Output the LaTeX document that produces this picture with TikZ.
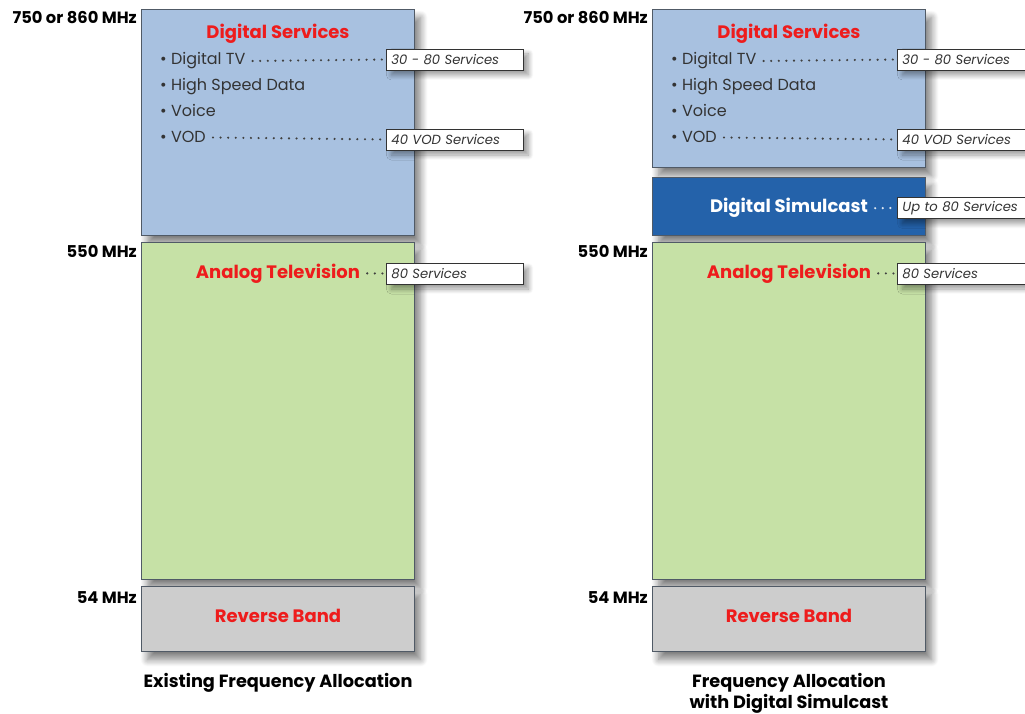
\documentclass[tikz,border=0pt]{standalone}
\usepackage{fontspec}
\setmainfont{Poppins}
\usetikzlibrary{shadows.blur}
\definecolor{dsblue}{HTML}{A8C1E0}
\definecolor{simblue}{HTML}{2462AA}
\definecolor{atgreen}{HTML}{C6E1A6}
\definecolor{rbgray}{HTML}{CDCDCD}
\definecolor{redtxt}{HTML}{EE1C1C}
\definecolor{edgec}{HTML}{505A66}
\definecolor{txtc}{HTML}{333333}
\begin{document}
\begin{tikzpicture}[x=1pt,y=-1pt,
  shad/.style={blur shadow={shadow xshift=6pt, shadow yshift=-8pt, shadow blur radius=7pt, shadow blur steps=12, shadow opacity=50}},
  tshad/.style={blur shadow={shadow xshift=5pt, shadow yshift=-5pt, shadow blur radius=5pt, shadow blur steps=10, shadow opacity=40}},
  band/.style={draw=edgec, line width=1.1pt, anchor=north west, inner sep=0pt, shad},
  tag/.style={draw=black!80, line width=0.9pt, fill=white, anchor=west, inner xsep=5pt, inner ysep=0pt,
    text width=127pt, minimum height=21pt, align=left, font=\fontsize{13.2}{13.2}\selectfont\itshape, text=txtc, tshad},
  item/.style={anchor=base west, inner sep=0pt, font=\fontsize{16}{16}\selectfont, text=txtc},
  title/.style={anchor=base, inner sep=0pt, font=\fontsize{18}{18}\selectfont\bfseries, text=redtxt},
  freq/.style={anchor=base east, inner sep=0pt, font=\fontsize{16.3}{16.3}\selectfont\bfseries},
  caption/.style={anchor=base, inner sep=0pt, font=\fontsize{17.7}{17.7}\selectfont\bfseries},
  leader/.style={draw=black!75, line width=2.4pt, line cap=round, dash pattern=on 0pt off 7.6pt, shorten >=3pt, shorten <=7pt}]
\useasboundingbox (0,0) rectangle (1025,714);
\clip (0,0) rectangle (1025,714);

% ---------- left column ----------
\node[band, fill=dsblue, minimum width=273pt, minimum height=226pt] (ds1) at (141,9) {};
\node[band, fill=atgreen, minimum width=273pt, minimum height=337pt] (at1) at (141,242) {};
\node[band, fill=rbgray, minimum width=273pt, minimum height=65pt] (rb1) at (141,586) {};

\node[freq] (f750a) at (137,24) {750 or 860 MHz};
\node[freq] (f550a) at (137,257) {550 MHz};
\node[freq] (f54a) at (137,603.5) {54 MHz};

\node[title] (dst1) at (278,38.5) {Digital Services};
\node[item] (dtv1) at (160,65) {• Digital TV};
\node[item] (hsd1) at (160,91) {• High Speed Data};
\node[item] (voi1) at (160,117) {• Voice};
\node[item] (vod1) at (160,143) {• VOD};
\node[tag] (tdtv1) at (386,59.5) {30 - 80 Services};
\node[tag] (tvod1) at (386,139.5) {40 VOD Services};
\draw[leader] (dtv1.east) -- (tdtv1.west);
\draw[leader] (vod1.east) -- (tvod1.west);

\node[title] (att1) at (278,278) {Analog Television};
\node[tag] (tat1) at (386,273.5) {80 Services};
\draw[leader] (att1.east) -- (tat1.west);

\node[title] (rbt1) at (278,622.5) {Reverse Band};
\node[caption] (cap1) at (278,687) {Existing Frequency Allocation};

% ---------- right column ----------
\node[band, fill=dsblue, minimum width=273pt, minimum height=158pt] (ds2) at (652,9) {};
\node[band, fill=simblue, minimum width=273pt, minimum height=58pt] (sim2) at (652,177) {};
\node[band, fill=atgreen, minimum width=273pt, minimum height=337pt] (at2) at (652,242) {};
\node[band, fill=rbgray, minimum width=273pt, minimum height=65pt] (rb2) at (652,586) {};

\node[freq] (f750b) at (648,24) {750 or 860 MHz};
\node[freq] (f550b) at (648,257) {550 MHz};
\node[freq] (f54b) at (648,603.5) {54 MHz};

\node[title] (dst2) at (789,38.5) {Digital Services};
\node[item] (dtv2) at (671,65) {• Digital TV};
\node[item] (hsd2) at (671,91) {• High Speed Data};
\node[item] (voi2) at (671,117) {• Voice};
\node[item] (vod2) at (671,143) {• VOD};
\node[tag] (tdtv2) at (897,59.5) {30 - 80 Services};
\node[tag] (tvod2) at (897,139.5) {40 VOD Services};
\draw[leader] (dtv2.east) -- (tdtv2.west);
\draw[leader] (vod2.east) -- (tvod2.west);

\node[title, text=white] (simt2) at (789,213) {Digital Simulcast};
\node[tag] (tsim2) at (897,208) {Up to 80 Services};
\draw[leader, draw=white!85!simblue] (simt2.east) -- (tsim2.west);

\node[title] (att2) at (789,278) {Analog Television};
\node[tag] (tat2) at (897,273.5) {80 Services};
\draw[leader] (att2.east) -- (tat2.west);

\node[title] (rbt2) at (789,622.5) {Reverse Band};
\node[caption] (cap2a) at (789,687) {Frequency Allocation};
\node[caption] (cap2b) at (789,708) {with Digital Simulcast};
\end{tikzpicture}
\end{document}
